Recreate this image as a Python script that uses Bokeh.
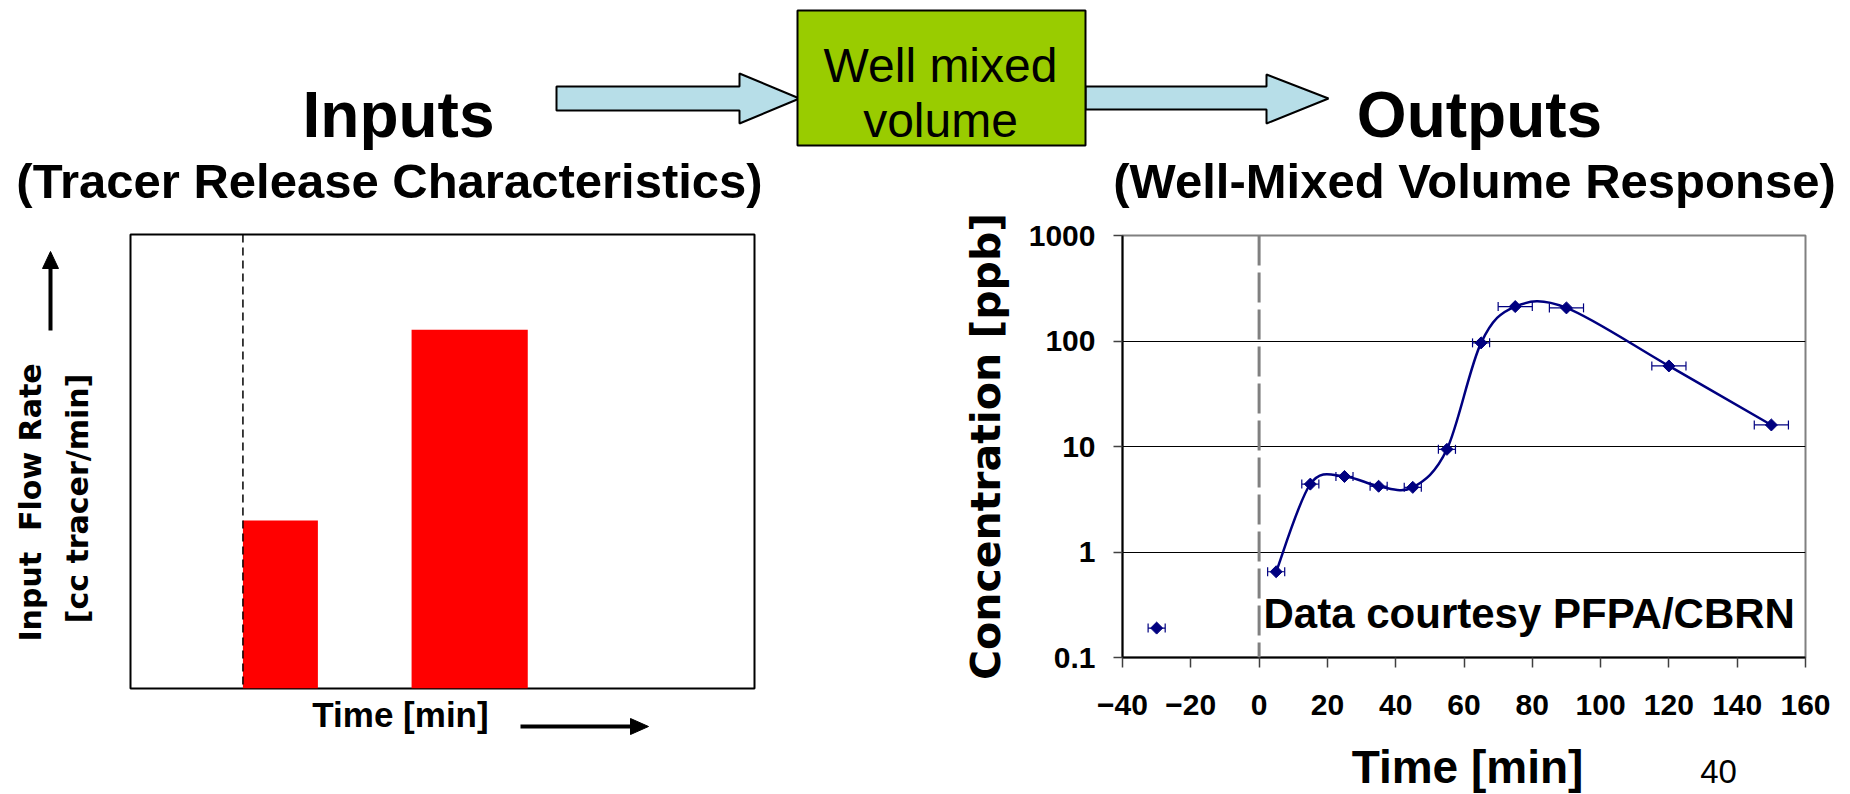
import numpy as np
from bokeh.plotting import figure
from bokeh.models import (Range1d, FixedTicker, PrintfTickFormatter, Span, Label,
                          Whisker, TeeHead, ColumnDataSource)
from bokeh.layouts import column, row
from bokeh.embed import file_html
from bokeh.resources import INLINE
from bokeh.core.properties import value

# ---- Outputs: tracer concentration measured in the well-mixed volume ----
time_min = [-30, 5, 15, 25, 35, 45, 55, 65, 75, 90, 120, 150]
conc_ppb = [0.19, 0.65, 4.4, 5.2, 4.2, 4.1, 9.4, 96, 212, 206, 58, 16]
time_err_min = [2.5, 2.5, 2.5, 2.5, 2.5, 2.5, 2.5, 2.5, 5, 5, 5, 5]
x_ticks = [-40, -20, 0, 20, 40, 60, 80, 100, 120, 140, 160]
y_ticks = [0.1, 1, 10, 100, 1000]

# ---- Inputs: schematic tracer releases (arbitrary units) ----
release_start = [0, 9]
release_end = [4, 15.2]
release_rate = [3.7, 7.9]

NAVY = "#000080"
ARIAL = "Liberation Sans"
VERDANA = "DejaVu Sans"
W, H = 1850, 794


def sheet(x0, x1, y0, y1):
    """A bare drawing area addressed in page pixels (y grows downward)."""
    f = figure(width=x1 - x0, height=y1 - y0, x_range=Range1d(x0, x1),
               y_range=Range1d(y1, y0), output_backend="svg", toolbar_location=None,
               min_border=0, x_axis_location=None, y_axis_location=None,
               outline_line_color=None, frame_align=False)
    f.xgrid.visible = False
    f.ygrid.visible = False
    f.background_fill_color = "white"
    f.border_fill_color = "white"
    return f


def write(f, x, baseline, s, size, font=ARIAL, bold=True, angle=0.0, align="center"):
    # text is anchored on its middle; shift from the wanted baseline
    f.text(x=[x], y=[baseline - 0.347 * size if angle == 0 else baseline], text=[s],
           angle=angle, text_font=value(font),
           text_font_style="bold" if bold else "normal",
           text_font_size=f"{size}px", text_align=align, text_baseline="middle",
           text_color="black")


# ---------------- header band: titles and flow diagram ----------------
top = sheet(0, W, 0, 210)
arrow_fill = "#B7DEE8"
top.patch([556, 739, 739, 799, 739, 739, 556], [86, 86, 73, 98, 123, 110, 110],
          fill_color=arrow_fill, line_color="black", line_width=2)
top.patch([1085, 1266, 1266, 1328, 1266, 1266, 1085], [86, 86, 74, 98, 123, 109, 109],
          fill_color=arrow_fill, line_color="black", line_width=2)
top.quad(left=[797], right=[1085], top=[10], bottom=[145],
         fill_color="#99CC00", line_color="black", line_width=2)
write(top, 940, 82, "Well mixed", 48, bold=False)
write(top, 940, 137, "volume", 48, bold=False)
write(top, 398, 137, "Inputs", 64)
write(top, 1479, 137, "Outputs", 64)
write(top, 389, 198, "(Tracer Release Characteristics)", 49)
write(top, 1474, 198, "(Well-Mixed Volume Response)", 49)

# ---------------- left panel: input release schedule ----------------
# axis titles to the left of the panel
ll = sheet(0, 128, 210, H)
write(ll, 29.5, 502, "Input\u00a0 Flow Rate", 30, font=VERDANA, angle=np.pi / 2)
write(ll, 77, 498, "[cc tracer/min]", 30, font=VERDANA, angle=np.pi / 2)
ll.segment(x0=[50], y0=[330], x1=[50], y1=[266], line_color="black", line_width=4)
ll.patch([42, 58, 50], [268, 268, 251], fill_color="black", line_color="black")

lc = figure(width=797, height=480, x_range=Range1d(-6, 27.3), y_range=Range1d(0, 10),
            output_backend="svg", toolbar_location=None, frame_align=False,
            min_border_left=2, min_border_right=171, min_border_top=24,
            min_border_bottom=2, x_axis_location=None, y_axis_location=None,
            outline_line_color="black", outline_line_width=2)
lc.xgrid.visible = False
lc.ygrid.visible = False
lc.background_fill_color = "white"
lc.border_fill_color = "white"
lc.quad(left=release_start, right=release_end, bottom=0, top=release_rate,
        fill_color="#FF0000", line_color=None)
lc.add_layout(Span(location=0, dimension="height", line_color="black",
                   line_width=1.5, line_dash="8 5"))

lb = sheet(128, 925, 690, H)
write(lb, 400, 726, "Time [min]", 35)
lb.segment(x0=[520], y0=[726], x1=[632], y1=[726], line_color="black", line_width=4)
lb.patch([630, 630, 648], [718, 734, 726], fill_color="black", line_color="black")

# ---------------- right panel: measured response (log scale) ----------------
rc = figure(width=925, height=530, x_range=Range1d(-40, 160), y_range=Range1d(0.1, 1000),
            y_axis_type="log", output_backend="svg", toolbar_location=None,
            frame_align=False, min_border_left=197, min_border_right=45,
            min_border_top=25, min_border_bottom=83,
            outline_line_color="#808080", outline_line_width=2)
rc.background_fill_color = "white"
rc.border_fill_color = "white"
rc.xgrid.visible = False
rc.ygrid.ticker = FixedTicker(ticks=y_ticks)
rc.ygrid.grid_line_color = "black"
rc.ygrid.grid_line_width = 1.2

rc.xaxis.ticker = FixedTicker(ticks=x_ticks, minor_ticks=[])
rc.yaxis.ticker = FixedTicker(ticks=y_ticks, minor_ticks=[])
rc.yaxis.formatter = PrintfTickFormatter(format="%g")
for ax in (rc.xaxis[0], rc.yaxis[0]):
    ax.axis_line_color = "black"
    ax.axis_line_width = 2
    ax.major_tick_in = 0
    ax.minor_tick_in = 0
    ax.minor_tick_out = 0
    ax.major_tick_line_color = "#404040"
    ax.major_tick_line_width = 1.5
    ax.major_label_text_font = ARIAL
    ax.major_label_text_font_style = "bold"
    ax.major_label_text_font_size = "30px"
    ax.major_label_text_color = "black"
rc.xaxis.major_tick_out = 10
rc.xaxis.major_label_standoff = 27
rc.yaxis.major_tick_out = 9
rc.yaxis.major_label_standoff = 18
rc.yaxis.axis_label = "Concentration [ppb]"
rc.yaxis.axis_label_text_font = VERDANA
rc.yaxis.axis_label_text_font_style = "bold"
rc.yaxis.axis_label_text_font_size = "41px"
rc.yaxis.axis_label_text_color = "black"
rc.yaxis.axis_label_standoff = 16

rc.add_layout(Span(location=0, dimension="height", line_color="#808080",
                   line_width=3, line_dash="30 7"))

# smoothed response curve: cubic Bezier segments through the measured points
# (Catmull-Rom tangents, evaluated in the plotted x / log10(y) space)
cx = np.array(time_min[1:], dtype=float)
cy = np.log10(np.array(conc_ppb[1:], dtype=float))
n = len(cx)
px = np.concatenate([[cx[0]], cx, [cx[-1]]])
py = np.concatenate([[cy[0]], cy, [cy[-1]]])
seg = dict(x0=[], y0=[], x1=[], y1=[], cx0=[], cy0=[], cx1=[], cy1=[])
for i in range(n - 1):
    a, b = i + 1, i + 2
    seg["x0"].append(px[a]); seg["y0"].append(10 ** py[a])
    seg["x1"].append(px[b]); seg["y1"].append(10 ** py[b])
    seg["cx0"].append(px[a] + (px[b] - px[a - 1]) / 6)
    seg["cy0"].append(10 ** (py[a] + (py[b] - py[a - 1]) / 6))
    seg["cx1"].append(px[b] - (px[b + 1] - px[a]) / 6)
    seg["cy1"].append(10 ** (py[b] - (py[b + 1] - py[a]) / 6))
rc.bezier(source=ColumnDataSource(seg), x0="x0", y0="y0", x1="x1", y1="y1",
          cx0="cx0", cy0="cy0", cx1="cx1", cy1="cy1",
          line_color=NAVY, line_width=2.5)

err_src = ColumnDataSource(dict(
    y=conc_ppb,
    lo=[t - e for t, e in zip(time_min, time_err_min)],
    hi=[t + e for t, e in zip(time_min, time_err_min)]))
rc.add_layout(Whisker(source=err_src, base="y", lower="lo", upper="hi",
                      dimension="width", line_color=NAVY, line_width=1.2,
                      lower_head=TeeHead(size=9, line_color=NAVY, line_width=1.2),
                      upper_head=TeeHead(size=9, line_color=NAVY, line_width=1.2)))
rc.scatter(time_min, conc_ppb, marker="square", angle=np.pi / 4, size=8.5,
           fill_color=NAVY, line_color=NAVY)

rc.add_layout(Label(x=1.3, y=0.259, text="Data courtesy PFPA/CBRN", text_align="left",
                    text_baseline="middle", text_font=ARIAL, text_font_style="bold",
                    text_font_size="42px", text_color="black"))

rb = sheet(925, W, 740, H)
write(rb, 1467, 782, "Time [min]", 46)
write(rb, 1718, 782, "40", 33, bold=False)

page = column(top,
              row(ll, column(lc, lb, spacing=0), column(rc, rb, spacing=0), spacing=0),
              spacing=0)
open("out.html", "w").write(file_html(page, INLINE))
